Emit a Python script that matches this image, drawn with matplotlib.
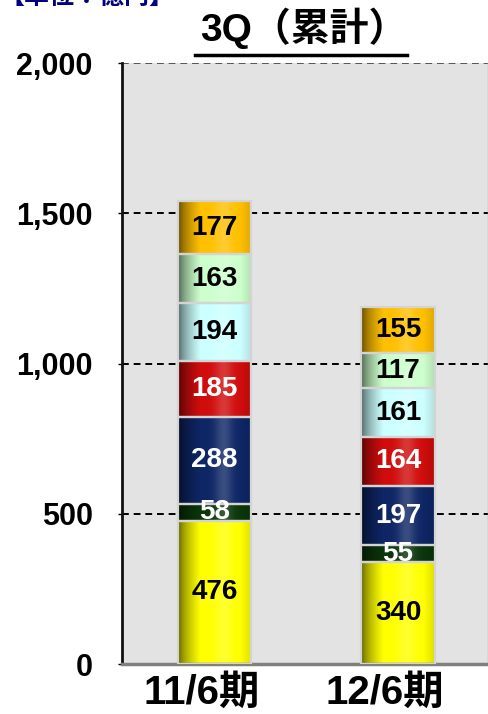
import matplotlib
matplotlib.use("Agg")
import matplotlib.pyplot as plt
import numpy as np
from matplotlib.colors import to_rgb
from matplotlib.transforms import ScaledTranslation

plt.rcParams['font.family'] = ['Liberation Sans', 'Noto Sans CJK JP', 'DejaVu Sans']
plt.rcParams['font.weight'] = 'bold'

# Data (bottom -> top segments)
periods = ['11/6期', '12/6期']
seg_colors = ['#ffff00', '#0a360a', '#0e2665', '#d00c0c', '#ccffff', '#ccffcc', '#ffc000']
seg_text = ['black', 'white', 'white', 'white', 'black', 'black', 'black']
values = [
    [476, 58, 288, 185, 194, 163, 177],
    [340, 55, 197, 164, 161, 117, 155],
]
yticks = [0, 500, 1000, 1500, 2000]
ytick_labels = ['0', '500', '1,000', '1,500', '2,000']
title = '3Q（累計）'
unit = '【単位：億円】'


def shade(color, n=64):
    """ horizontal shading: dark left edge, highlight a bit right of centre """
    t = np.linspace(0, 1, n)
    f = 0.35 + 0.65 * np.clip(t / 0.3, 0, 1) ** 0.6
    f = f - 0.12 * np.clip((t - 0.85) / 0.15, 0, 1)
    hl = 0.18 * np.exp(-((t - 0.62) / 0.12) ** 2)
    rgb = np.array(to_rgb(color))
    row = rgb[None, :] * f[:, None]
    row = row + (1 - row) * hl[:, None]
    return np.clip(row, 0, 1)[None, :, :]


fig = plt.figure(figsize=(4.89, 7.14), dpi=100)
ax = fig.add_axes([122 / 489, 1 - 664 / 714, 366 / 489, 601 / 714])
ax.set_facecolor('#e3e3e3')

# Grid lines
for yv in yticks[1:]:
    ax.axhline(yv, color='black' if yv < 2000 else '#555555', lw=1.4,
               ls=(0, (3.5, 2.5)), zorder=1)

width = 0.40
for i, vals in enumerate(values):
    bottom = 0
    for j, v in enumerate(vals):
        bar = ax.bar(i, v, width, bottom=bottom, color=seg_colors[j],
                     edgecolor='none', zorder=2)[0]
        im = ax.imshow(shade(seg_colors[j]), extent=[i - width / 2, i + width / 2, bottom, bottom + v],
                       aspect='auto', interpolation='bilinear', zorder=2.5)
        im.set_clip_path(bar)
        ax.bar(i, v, width, bottom=bottom, fill=False, edgecolor='#d4d4d4', lw=1.6, zorder=3)
        ax.text(i, bottom + v / 2, str(v), ha='center', va='center', fontsize=20,
                fontweight='bold', color=seg_text[j], zorder=4)
        bottom += v

ax.set_xlim(-0.505, 1.49)
ax.set_ylim(0, 2000)
ax.set_yticks(yticks)
ax.set_yticklabels(ytick_labels, fontsize=22, fontweight='bold')
ax.set_xticks(range(len(periods)))
ax.set_xticklabels(periods, fontsize=29, fontweight='bold')
ax.tick_params(axis='y', length=3, width=1, pad=18)
ax.tick_params(axis='x', length=0, pad=7)
shift = ScaledTranslation(-13 / 100, 0, fig.dpi_scale_trans)
for lab in ax.get_xticklabels():
    lab.set_transform(lab.get_transform() + shift)

ax.spines['top'].set_visible(False)
ax.spines['left'].set_color('#111111')
ax.spines['left'].set_linewidth(2)
ax.spines['bottom'].set_color('#808080')
ax.spines['bottom'].set_linewidth(2.5)
ax.spines['right'].set_color('#b0b0b0')
ax.spines['right'].set_linewidth(1)

# Title with underline
fig.text(304 / 489, 1 - 41 / 714, title, ha='center', va='baseline', fontsize=28,
         fontweight='bold', color='black')
fig.add_artist(plt.Line2D([195 / 489, 407 / 489], [1 - 55 / 714] * 2, color='black', lw=2.5))

# Unit label, cut off at the top edge as in the source slide
fig.text(0.0, 1 - 9 / 714, unit, ha='left', va='bottom', fontsize=18,
         fontweight='bold', color='#000080')

fig.savefig('out.png', dpi=100)
